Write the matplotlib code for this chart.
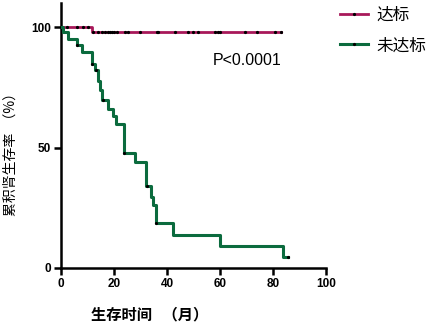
import numpy as np
import matplotlib
matplotlib.use("Agg")
import matplotlib.pyplot as plt
from matplotlib.lines import Line2D

plt.rcParams['font.family'] = ['Liberation Sans', 'Noto Sans CJK SC', 'DejaVu Sans']
cjk = ['Noto Sans CJK SC', 'DejaVu Sans']

# survival steps (months, %)
red_t = [0, 11.6, 83.0]
red_s = [100, 97.9, 97.9]
red_cens = [2.3, 5.9, 8.4, 10.3, 12.2, 13.8, 15.4, 16.6, 17.9, 18.6, 19.3, 20.0,
            21.0, 24.2, 25.4, 29.8, 36.1, 36.7, 43.0, 48.0, 49.9, 51.8, 58.1,
            59.4, 60.0, 69.4, 73.8, 80.8, 83.0]

green_t = [0, 0.8, 2.7, 5.9, 7.8, 11.6, 12.8, 13.8, 14.7, 15.5, 17.8, 19.7, 20.6,
           23.8, 27.9, 32.1, 34.0, 34.8, 35.8, 42.2, 60.0, 83.9, 85.8]
green_s = [100, 98.1, 95.0, 92.5, 89.6, 84.6, 82.2, 77.6, 73.9, 69.7, 65.8, 63.0,
           59.8, 47.6, 43.9, 34.0, 29.6, 26.1, 18.8, 13.8, 9.3, 4.4, 4.4]
green_cens = [6.0, 11.7, 13.2, 16.0, 23.9, 32.3, 35.9, 85.8]

labels = ['达标', '未达标']
red_c = '#A8185A'
green_c = '#0B6B3E'


def at(t, s, x):
    i = np.searchsorted(t, x, side='right') - 1
    return np.array(s)[i]


fig = plt.figure(figsize=(4.29, 3.25), dpi=100)
ax = fig.add_axes([61 / 429, 57 / 325, 265 / 429, 265 / 325])

ax.step(red_t, red_s, where='post', color=red_c, lw=2.0, zorder=3)
ax.plot(red_cens, at(red_t, red_s, red_cens), 'o', ms=1.3, color='black', zorder=4)
ax.step(green_t, green_s, where='post', color=green_c, lw=2.2, zorder=3)
ax.plot(green_cens, at(green_t, green_s, green_cens), 'o', ms=1.3, color='black', zorder=4)

ax.set_xlim(0, 100)
ax.set_ylim(0, 110)
ax.set_xticks([0, 20, 40, 60, 80, 100])
ax.set_yticks([0, 50, 100])
for side in ['top', 'right']:
    ax.spines[side].set_visible(False)
for side in ['left', 'bottom']:
    ax.spines[side].set_linewidth(1.8)
ax.tick_params(width=1.8, length=5, labelsize=8.5, pad=2)
for lab in ax.get_xticklabels() + ax.get_yticklabels():
    lab.set_fontweight('bold')

ax.set_xlabel('生存时间   （月）', fontsize=11, fontweight='bold', family=cjk)
ax.xaxis.set_label_coords(0.336, -0.145)
ax.set_ylabel('累积肾生存率  （%）', fontsize=10, family=cjk)
ax.yaxis.set_label_coords(-0.163, 0.44)

ax.text(57.4, 86, 'P<0.0001', fontsize=11.5, va='center', ha='left')

handles = [Line2D([], [], color=red_c, lw=2, marker='o', ms=1.3, mfc='black', mec='black'),
           Line2D([], [], color=green_c, lw=2.2, marker='o', ms=1.3, mfc='black', mec='black')]
fig.legend(handles, labels, loc='upper left', bbox_to_anchor=(340 / 429, 1 - 7 / 325),
           frameon=False, prop={'family': cjk, 'size': 12}, handlelength=1.7,
           labelspacing=0.8, handletextpad=0.5, borderaxespad=0, borderpad=0)

fig.savefig('out.png', dpi=100)
